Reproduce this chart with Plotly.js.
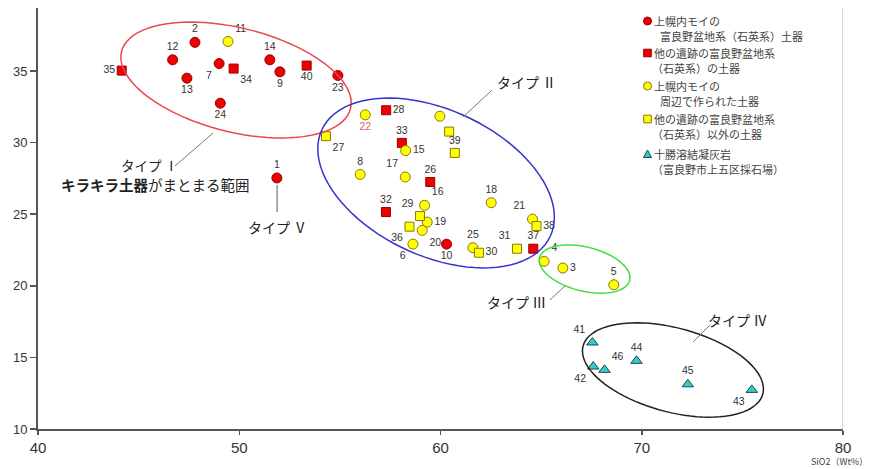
<!DOCTYPE html>
<html><head><meta charset="utf-8">
<script src="https://cdn.plot.ly/plotly-3.0.1.min.js"></script>
<style>html,body{margin:0;padding:0;background:#fff;} #chart{width:873px;height:469px;}</style>
</head><body><div id="chart"></div>
<script>
// ---- Data (SiO2 wt% on x) ----
// 上幌内モイの富良野盆地系（石英系）土器 : red circles
const redCircleIds = ['1','2','7','9','10','12','13','14','23','24'];
const redCircleX   = [51.87,47.80,49.00,52.02,60.30,46.69,47.40,51.52,54.90,49.06];
const redCircleY   = [27.53,37.00,35.52,34.94,22.91,35.78,34.50,35.78,34.69,32.75];

// 他の遺跡の富良野盆地系（石英系）の土器 : red squares
const redSquareIds = ['26','28','32','33','34','35','37','40'];
const redSquareX   = [59.49,57.30,57.29,58.08,49.72,44.16,64.61,53.35];
const redSquareY   = [27.25,32.26,25.15,29.98,35.17,35.03,22.59,35.38];

// 上幌内モイの周辺で作られた土器 : yellow circles
const yelCircleIds = ['3','4','5','6','8','11','15','16','17','18','19','20','21','22','25',''];
const yelCircleX   = [66.08,65.15,68.61,58.63,56.01,49.44,58.27,59.21,58.25,62.52,59.34,59.09,64.57,56.26,61.61,59.97];
const yelCircleY   = [21.24,21.71,20.07,22.91,27.78,37.06,29.44,25.62,27.60,25.80,24.45,23.87,24.66,31.94,22.66,31.84];

// 他の遺跡の富良野盆地系（石英系）以外の土器 : yellow squares
const yelSquareIds = ['27','29','30','31','36','38','39',''];
const yelSquareX   = [54.31,58.98,61.91,63.80,58.46,64.77,60.71,60.43];
const yelSquareY   = [30.45,24.87,22.31,22.59,24.13,24.17,29.28,30.77];

// 十勝溶結凝灰岩（富良野市上五区採石場） : cyan triangles
const triIds = ['41','42','43','44','45','46'];
const triX   = [67.55,67.59,75.47,69.74,72.29,68.15];
const triY   = [16.04,14.36,12.73,14.76,13.12,14.13];

const legendLines = [
  ['上幌内モイの','富良野盆地系（石英系）土器'],
  ['他の遺跡の富良野盆地系','（石英系）の土器'],
  ['上幌内モイの','周辺で作られた土器'],
  ['他の遺跡の富良野盆地系','（石英系）以外の土器'],
  ['十勝溶結凝灰岩','（富良野市上五区採石場）']
];
const xTicks = [40,50,60,70,80];
const yTicks = [10,15,20,25,30,35];

// ---- Label placement (style) ----
const redCirclePos = ['top center','top center','bottom left','bottom center','bottom center','top center','bottom center','top center','bottom center','bottom center'];
const redSquarePos = ['top center','middle right','top center','top center','bottom right','middle left','top center','bottom center'];
const yelCirclePos = ['middle right','top right','top center','bottom left','top center','top right','middle right','top right','top left','top center','middle right','bottom right','top left','bottom center','top center','top center'];
const yelSquarePos = ['bottom right','top left','middle right','top left','bottom left','middle right','top center','top center'];
const triPos = ['top left','bottom left','bottom left','top center','top center','top right'];

const FONT = '"Noto Sans CJK JP", "Noto Sans", sans-serif';
const NUMFONT = '"Liberation Sans", Arial, sans-serif';

function mk(x,y,ids,pos,sym,fill,line,size,name,tcol){
  return {type:'scatter',mode:'markers+text',x:x,y:y,text:ids,textposition:pos,
    marker:{symbol:sym,color:fill,size:size,line:{color:line,width:1}},
    textfont:{family:NUMFONT,size:10.5,color:tcol||'#333'},
    name:name,hoverinfo:'skip',cliponaxis:false,showlegend:false};
}
const yelCircleTextCol = yelCircleIds.map(id=> id==='22' ? '#e86060' : '#333');
const traces = [
  mk(redCircleX,redCircleY,redCircleIds,redCirclePos,'circle','#ee0000','#990000',10,'rc'),
  mk(redSquareX,redSquareY,redSquareIds,redSquarePos,'square','#ee0000','#990000',9,'rs'),
  mk(yelCircleX,yelCircleY,yelCircleIds,yelCirclePos,'circle','#ffff00','#8a7a00',10,'yc',yelCircleTextCol),
  mk(yelSquareX,yelSquareY,yelSquareIds,yelSquarePos,'square','#ffff00','#8a7a00',9,'ys'),
  mk(triX,triY,triIds,triPos,'triangle-up','#33cccc','#1a4a4a',10,'tr')
];

// ---- decorations ----
const XPU = 805/40, YPU = 421/29.4;
function ellipse(cx,cy,a,b,deg){
  const th = deg*Math.PI/180; let p='';
  for(let i=0;i<=90;i++){
    const t = i/90*2*Math.PI;
    const dxp = a*Math.cos(t)*Math.cos(th) - b*Math.sin(t)*Math.sin(th);
    const dyp = a*Math.cos(t)*Math.sin(th) + b*Math.sin(t)*Math.cos(th);
    const x = cx + dxp/XPU, y = cy - dyp/YPU;
    p += (i===0?'M':'L') + x.toFixed(4)+','+y.toFixed(4);
  }
  return p+'Z';
}
const shapes = [
  {type:'line',xref:'x',yref:'y',x0:80,x1:80,y0:10,y1:39.4,line:{color:'#c8c8c8',width:1.5}},
  {type:'path',xref:'x',yref:'y',path:ellipse(49.84,34.37,118,52,14),line:{color:'#e8474c',width:1.5}},
  {type:'path',xref:'x',yref:'y',path:ellipse(59.78,27.18,126,73,25),line:{color:'#3535cc',width:1.5}},
  {type:'path',xref:'x',yref:'y',path:ellipse(67.16,21.17,46.5,22,14),line:{color:'#44dd44',width:1.5}},
  {type:'path',xref:'x',yref:'y',path:ellipse(71.55,14.12,93,42,15),line:{color:'#222',width:1.5}},
  {type:'line',xref:'x',yref:'y',x0:48.70,y0:30.67,x1:46.81,y1:28.37,line:{color:'#777',width:1}},
  {type:'line',xref:'x',yref:'y',x0:51.88,y0:27.04,x1:51.88,y1:25.15,line:{color:'#777',width:1.2}},
  {type:'line',xref:'x',yref:'y',x0:61.12,y0:31.79,x1:62.56,y1:33.67,line:{color:'#777',width:1}},
  {type:'line',xref:'x',yref:'y',x0:66.19,y0:19.99,x1:65.44,y1:19.01,line:{color:'#777',width:1}},
  {type:'line',xref:'x',yref:'y',x0:72.55,y0:16.08,x1:73.39,y1:17.26,line:{color:'#777',width:1}}
];
const annotations = [
  {x:45.52,y:28.44,text:'タイプ Ⅰ',size:13.5},
  {x:45.84,y:27.04,text:'<b>キラキラ土器</b>がまとまる範囲',size:14.5},
  {x:51.90,y:24.11,text:'タイプ Ⅴ',size:14},
  {x:64.25,y:34.23,text:'タイプ Ⅱ',size:14},
  {x:63.80,y:18.87,text:'タイプ Ⅲ',size:14},
  {x:74.78,y:17.61,text:'タイプ Ⅳ',size:14}
].map(a=>({x:a.x,y:a.y,xref:'x',yref:'y',text:a.text,showarrow:false,xanchor:'center',yanchor:'middle',
  font:{family:FONT,size:a.size,color:'#222'}}));

// legend
const px2paperX = px => (px-38)/805;
const px2paperY = py => (429-py)/421;
const legY1 = [21,53,86,119,154], legY2 = [35.5,67.5,101,134,168.5];
const legX2 = [658,650,658,650,650];
const legMarks = [
  {t:'circle',fill:'#ee0000',line:'#990000'},
  {t:'rect',fill:'#ee0000',line:'#990000'},
  {t:'circle',fill:'#ffff00',line:'#8a7a00'},
  {t:'rect',fill:'#ffff00',line:'#8a7a00'},
  {t:'tri',fill:'#33cccc',line:'#1a4a4a'}
];
legendLines.forEach((ln,i)=>{
  const m = legMarks[i];
  const ax = px2paperX(647.5), ay = px2paperY(legY1[i]);
  if(m.t==='tri'){
    shapes.push({type:'path',xref:'paper',yref:'paper',xsizemode:'pixel',ysizemode:'pixel',xanchor:ax,yanchor:ay,
      path:'M-4,-3.5L4,-3.5L0,4Z',fillcolor:m.fill,line:{color:m.line,width:1}});
  } else {
    const r = m.t==='circle'?4:3.8;
    shapes.push({type:m.t,xref:'paper',yref:'paper',xsizemode:'pixel',ysizemode:'pixel',xanchor:ax,yanchor:ay,
      x0:-r,x1:r,y0:-r,y1:r,fillcolor:m.fill,line:{color:m.line,width:1}});
  }
  annotations.push({xref:'paper',yref:'paper',x:px2paperX(652),y:px2paperY(legY1[i]),text:ln[0],showarrow:false,
    xanchor:'left',yanchor:'middle',font:{family:FONT,size:11,color:'#444'}});
  annotations.push({xref:'paper',yref:'paper',x:px2paperX(legX2[i]),y:px2paperY(legY2[i]),text:ln[1],showarrow:false,
    xanchor:'left',yanchor:'middle',font:{family:FONT,size:11,color:'#444'}});
});
annotations.push({xref:'paper',yref:'paper',x:px2paperX(839),y:px2paperY(461),text:'SiO2（Wt%）',showarrow:false,
  xanchor:'center',yanchor:'middle',font:{family:FONT,size:9,color:'#444'}});

const layout = {
  width:873,height:469,margin:{l:38,r:30,t:8,b:40},
  paper_bgcolor:'#fff',plot_bgcolor:'#fff',showlegend:false,
  xaxis:{range:[40,80],tickvals:xTicks,showline:true,linecolor:'#555',linewidth:2,ticks:'outside',ticklen:4,tickwidth:1.5,tickcolor:'#555',
    showgrid:false,zeroline:false,tickfont:{family:'"Liberation Sans Narrow","Liberation Sans",Arial,sans-serif',size:15,color:'#333'}},
  yaxis:{range:[10,39.4],tickvals:yTicks,showline:true,linecolor:'#555',linewidth:2,ticks:'outside',ticklen:6,tickwidth:1.5,tickcolor:'#555',
    showgrid:false,zeroline:false,tickfont:{family:NUMFONT,size:13,color:'#333'}},
  shapes:shapes,annotations:annotations
};
Plotly.newPlot('chart',traces,layout,{displayModeBar:false,staticPlot:true});
</script></body></html>
